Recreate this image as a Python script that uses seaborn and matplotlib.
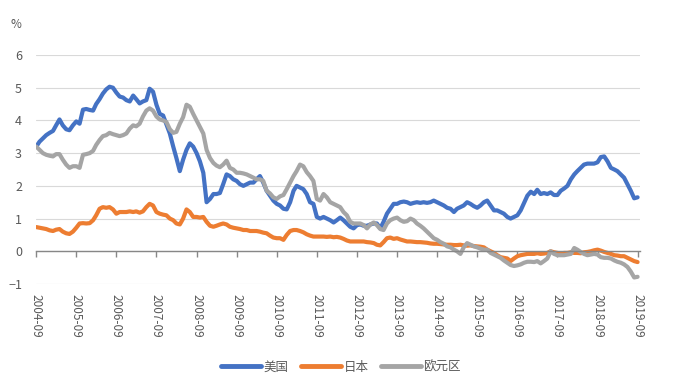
import pandas as pd
import matplotlib
matplotlib.use('Agg')
import matplotlib.pyplot as plt
import seaborn as sns

# monthly, 2004-09 .. 2019-09
months = pd.date_range('2004-09-01', periods=181, freq='MS')

us = [3.2, 3.35, 3.45, 3.55, 3.62, 3.68, 3.85, 4.03, 3.85, 3.73, 3.7, 3.85,
      3.97, 3.9, 4.33, 4.35, 4.32, 4.3, 4.5, 4.65, 4.82, 4.95, 5.03, 5.0,
      4.85, 4.73, 4.7, 4.62, 4.58, 4.76, 4.65, 4.52, 4.58, 4.62, 4.97, 4.88,
      4.48, 4.2, 4.15, 3.88, 3.6, 3.2, 2.85, 2.45, 2.8, 3.1, 3.3, 3.2,
      3.0, 2.75, 2.4, 1.5, 1.6, 1.75, 1.75, 1.78, 2.05, 2.35, 2.3, 2.2,
      2.15, 2.05, 2.0, 2.05, 2.1, 2.1, 2.2, 2.3, 2.1, 1.85, 1.7, 1.55,
      1.45, 1.4, 1.3, 1.28, 1.5, 1.85, 2.0, 1.95, 1.9, 1.75, 1.5, 1.45,
      1.05, 1.0, 1.05, 1.0, 0.95, 0.88, 0.95, 1.03, 0.95, 0.85, 0.75, 0.7,
      0.8, 0.82, 0.78, 0.78, 0.82, 0.85, 0.85, 0.7, 0.9, 1.15, 1.3, 1.45,
      1.45, 1.5, 1.52, 1.5, 1.45, 1.48, 1.5, 1.48, 1.5, 1.48, 1.5, 1.55,
      1.5, 1.45, 1.4, 1.33, 1.3, 1.2, 1.3, 1.35, 1.4, 1.5, 1.45, 1.38,
      1.33, 1.4, 1.5, 1.55, 1.4, 1.25, 1.25, 1.2, 1.15, 1.05, 1.0, 1.05,
      1.1, 1.25, 1.48, 1.7, 1.82, 1.75, 1.88, 1.75, 1.78, 1.75, 1.8, 1.72,
      1.72, 1.85, 1.92, 2.0, 2.2, 2.35, 2.45, 2.55, 2.65, 2.68, 2.68, 2.68,
      2.72, 2.88, 2.9, 2.75, 2.55, 2.5, 2.45, 2.35, 2.25, 2.05, 1.85, 1.62,
      1.65]

japan = [0.74, 0.72, 0.7, 0.68, 0.64, 0.62, 0.66, 0.68, 0.6, 0.55, 0.53, 0.6,
         0.72, 0.85, 0.86, 0.85, 0.86, 0.95, 1.1, 1.3, 1.35, 1.33, 1.35, 1.28,
         1.15, 1.2, 1.2, 1.2, 1.22, 1.2, 1.22, 1.18, 1.22, 1.35, 1.45, 1.4,
         1.2, 1.15, 1.12, 1.1, 1.0, 0.95, 0.85, 0.82, 1.0, 1.28, 1.2, 1.05,
         1.05, 1.03, 1.05, 0.9, 0.78, 0.75, 0.78, 0.82, 0.85, 0.82, 0.75, 0.72,
         0.7, 0.68, 0.65, 0.65, 0.62, 0.62, 0.62, 0.6, 0.57, 0.55, 0.48, 0.42,
         0.4, 0.4, 0.35, 0.5, 0.62, 0.65, 0.65, 0.62, 0.58, 0.52, 0.48, 0.45,
         0.45, 0.45, 0.45, 0.44, 0.45, 0.43, 0.44, 0.42, 0.38, 0.33, 0.3, 0.3,
         0.3, 0.3, 0.3, 0.28, 0.27, 0.25, 0.2, 0.18, 0.28, 0.4, 0.42, 0.38,
         0.4, 0.36, 0.33, 0.3, 0.3, 0.29, 0.28, 0.28, 0.27, 0.26, 0.24, 0.23,
         0.23, 0.22, 0.21, 0.2, 0.2, 0.19, 0.19, 0.2, 0.18, 0.17, 0.18, 0.16,
         0.15, 0.14, 0.12, 0.05, 0.0, -0.05, -0.12, -0.18, -0.2, -0.22, -0.3, -0.22,
         -0.15, -0.12, -0.1, -0.08, -0.08, -0.08, -0.06, -0.08, -0.07, -0.05, 0.0, -0.03,
         -0.05, -0.07, -0.05, -0.05, -0.03, -0.05, -0.05, -0.06, -0.03, -0.02, 0.0, 0.03,
         0.05, 0.02, -0.02, -0.05, -0.08, -0.12, -0.13, -0.15, -0.15, -0.2, -0.25, -0.3,
         -0.33]

euro = [3.2, 3.1, 3.0, 2.95, 2.92, 2.9, 2.97, 2.97, 2.8, 2.65, 2.55, 2.6,
        2.6, 2.55, 2.95, 2.97, 3.0, 3.07, 3.25, 3.4, 3.52, 3.55, 3.62, 3.58,
        3.55, 3.52, 3.55, 3.6, 3.75, 3.85, 3.82, 3.9, 4.12, 4.3, 4.37, 4.3,
        4.12, 4.03, 4.0, 3.95, 3.73, 3.62, 3.65, 3.9, 4.1, 4.48, 4.42, 4.2,
        4.0, 3.8, 3.6, 3.1, 2.85, 2.7, 2.62, 2.57, 2.65, 2.77, 2.55, 2.5,
        2.4, 2.4, 2.38, 2.35, 2.3, 2.25, 2.2, 2.2, 2.15, 1.85, 1.77, 1.65,
        1.6, 1.68, 1.72, 1.9, 2.1, 2.3, 2.45, 2.65, 2.6, 2.42, 2.3, 2.15,
        1.6, 1.55, 1.75, 1.65, 1.5, 1.45, 1.4, 1.35, 1.2, 1.1, 0.9, 0.85,
        0.85, 0.85, 0.8, 0.7, 0.82, 0.88, 0.8, 0.68, 0.65, 0.85, 0.95, 1.0,
        1.03, 0.95, 0.9, 0.92, 1.0, 0.95, 0.85, 0.78, 0.7, 0.6, 0.5, 0.4,
        0.35, 0.28, 0.23, 0.15, 0.12, 0.05, 0.0, -0.08, 0.12, 0.25, 0.2, 0.15,
        0.12, 0.08, 0.05, 0.05, -0.05, -0.1, -0.15, -0.2, -0.28, -0.35, -0.42, -0.45,
        -0.43, -0.4, -0.35, -0.32, -0.32, -0.33, -0.3, -0.37, -0.3, -0.22, 0.0, -0.08,
        -0.12, -0.12, -0.12, -0.1, -0.08, 0.1, 0.05, -0.02, -0.08, -0.12, -0.1, -0.08,
        -0.1, -0.18, -0.2, -0.2, -0.22, -0.28, -0.32, -0.35, -0.4, -0.48, -0.62, -0.8,
        -0.78]

names = ['美国', '日本', '欧元区']
colors = ['#4472C4', '#ED7D31', '#A5A5A5']

df = pd.DataFrame({'date': list(months) * 3,
                   'value': us + japan + euro,
                   'region': [names[0]] * 181 + [names[1]] * 181 + [names[2]] * 181})

sns.set_theme(style='white')
plt.rcParams['font.family'] = ['Noto Sans CJK SC', 'DejaVu Sans']

fig = plt.figure(figsize=(6.82, 3.92), dpi=100)
ax = fig.add_axes([36 / 682, 1 - 284 / 392, 604 / 682, 229 / 392])

sns.lineplot(data=df, x='date', y='value', hue='region', palette=colors,
             linewidth=3, ax=ax, legend=True)
for ln in ax.get_lines():
    ln.set_solid_joinstyle('round')
    ln.set_solid_capstyle('round')

ax.set_ylim(-1, 6)
ax.set_yticks(range(-1, 7))
ax.set_xlim(months[0] - pd.Timedelta(days=2), months[-1] + pd.Timedelta(days=22))
ax.grid(axis='y', color='#D9D9D9', linewidth=0.8)
ax.set_axisbelow(True)
for s in ['top', 'right', 'left']:
    ax.spines[s].set_visible(False)
ax.spines['bottom'].set_position(('data', 0))
ax.spines['bottom'].set_color('#878787')
ax.spines['bottom'].set_linewidth(1.0)

ticks = [months[i] for i in range(0, 181, 12)]
ax.set_xticks(ticks)
ax.set_xticklabels([t.strftime('%Y-%m') for t in ticks], rotation=-90,
                   ha='center', va='top')
ax.tick_params(axis='x', direction='out', length=4, width=1, color='#878787',
               pad=27, labelsize=8.5, labelcolor='#595959', bottom=True)
ax.tick_params(axis='y', length=0, pad=10, labelsize=9, labelcolor='#595959')
ax.set_xlabel('')
ax.set_ylabel('')

fig.text(16 / 682, 1 - 24 / 392, '%', fontsize=8.5, color='#595959',
         ha='center', va='center')

handles, labels = ax.get_legend_handles_labels()
ax.legend_.remove()
leg = fig.legend(handles, labels, loc='center', bbox_to_anchor=(0.5, 1 - 367 / 392),
                 ncol=3, frameon=False, fontsize=9, handlelength=3.2,
                 handletextpad=0.2, columnspacing=1.0)
for t in leg.get_texts():
    t.set_color('#595959')
for h in leg.get_lines():
    h.set_linewidth(3.5)
    h.set_solid_capstyle('round')

fig.savefig('out.png', dpi=100)
